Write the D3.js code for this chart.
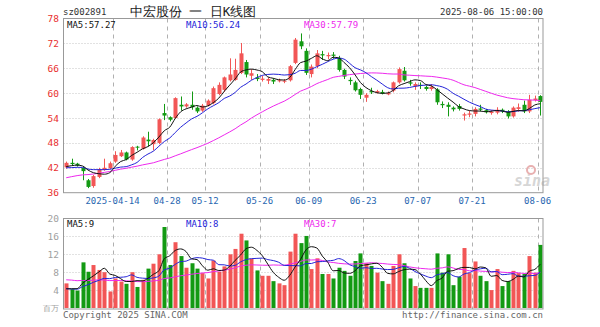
<!DOCTYPE html>
<html>
<head>
<meta charset="utf-8">
<script src="https://cdn.jsdelivr.net/npm/d3@7"></script>
<style>
  body { margin: 0; background: #fff; }
  svg text { font-family: "DejaVu Sans Mono", monospace; }
</style>
</head>
<body>
<div id="chart"></div>
<script>
// trading days shown on the chart
const dates = [
  "2025-03-31",
  "2025-04-01","2025-04-02","2025-04-03","2025-04-07","2025-04-08","2025-04-09","2025-04-10","2025-04-11",
  "2025-04-14","2025-04-15","2025-04-16","2025-04-17","2025-04-18","2025-04-21","2025-04-22","2025-04-23",
  "2025-04-24","2025-04-25","2025-04-28","2025-04-29","2025-04-30",
  "2025-05-06","2025-05-07","2025-05-08","2025-05-09","2025-05-12","2025-05-13","2025-05-14","2025-05-15",
  "2025-05-16","2025-05-19","2025-05-20","2025-05-21","2025-05-22","2025-05-23","2025-05-26","2025-05-27",
  "2025-05-28","2025-05-29","2025-05-30",
  "2025-06-03","2025-06-04","2025-06-05","2025-06-06","2025-06-09","2025-06-10","2025-06-11","2025-06-12",
  "2025-06-13","2025-06-16","2025-06-17","2025-06-18","2025-06-19","2025-06-20","2025-06-23","2025-06-24",
  "2025-06-25","2025-06-26","2025-06-27","2025-06-30",
  "2025-07-01","2025-07-02","2025-07-03","2025-07-04","2025-07-07","2025-07-08","2025-07-09","2025-07-10",
  "2025-07-11","2025-07-14","2025-07-15","2025-07-16","2025-07-17","2025-07-18","2025-07-21","2025-07-22",
  "2025-07-23","2025-07-24","2025-07-25","2025-07-28","2025-07-29","2025-07-30","2025-07-31",
  "2025-08-01","2025-08-04","2025-08-05","2025-08-06"
];

const opens = [42.1,43.2,43.0,42.0,39.0,37.6,39.8,41.5,41.9,43.5,44.8,45.7,44.0,47.1,46.6,48.8,47.7,48.0,55.2,54.2,
  54.0,57.2,56.8,57.2,56.5,55.8,57.0,57.6,59.8,60.8,63.1,63.2,64.9,67.5,64.2,63.8,63.2,63.0,63.2,62.9,
  62.8,63.1,67.3,72.5,70.2,64.6,66.5,69.4,68.9,69.3,68.5,65.6,63.2,62.6,61.0,58.9,60.5,60.1,60.3,59.7,
  60.6,62.6,65.4,62.6,61.6,62.0,61.5,61.0,60.9,57.4,57.2,56.5,56.9,54.6,54.8,55.0,56.3,55.9,55.2,55.3,
  56.0,55.6,54.4,56.2,57.2,55.6,58.3,59.3];
const highs = [43.5,44.2,43.2,42.3,39.3,40.3,42.0,44.2,43.5,46.0,46.3,45.9,47.2,47.3,49.6,50.7,49.0,53.9,57.4,54.4,
  59.0,59.2,57.6,60.4,56.8,57.4,58.5,61.6,62.6,64.0,68.4,68.3,72.1,68.0,65.8,64.6,64.2,63.8,63.6,63.5,
  63.4,66.8,73.3,74.4,70.8,66.9,70.4,70.2,69.8,69.9,69.0,65.9,63.8,63.0,61.3,60.0,61.3,60.8,60.8,60.4,
  62.8,66.2,66.3,63.2,62.6,62.6,61.8,62.2,61.2,58.0,57.8,56.8,57.4,55.3,55.8,56.6,57.2,56.2,55.9,56.6,
  56.3,55.9,56.8,57.5,58.2,59.6,59.4,59.5];
const lows = [41.8,42.5,42.3,39.0,37.1,37.2,39.5,41.3,41.7,43.2,44.6,43.8,43.7,46.2,46.4,47.2,46.2,47.7,53.5,53.2,
  53.8,55.8,56.5,56.0,55.2,55.5,56.8,57.3,59.5,60.3,62.8,63.0,64.6,63.8,63.2,62.9,62.8,62.2,62.2,62.6,
  62.4,62.8,67.0,70.6,64.4,63.8,66.0,68.0,68.2,68.3,65.2,63.4,62.0,60.4,58.6,57.9,59.8,59.9,59.7,59.5,
  60.2,62.3,62.8,61.8,60.8,61.0,60.6,60.6,57.2,56.4,54.4,55.6,55.8,53.4,54.2,54.4,55.6,55.1,54.8,54.9,
  55.2,53.9,54.1,55.5,55.2,55.2,58.0,54.6];
const closes = [43.2,42.9,42.6,41.2,37.4,40.0,41.7,42.0,43.1,45.1,45.7,44.0,47.0,46.9,49.3,48.4,48.7,53.7,54.6,53.6,
  58.8,56.8,57.3,56.6,55.6,57.0,58.2,61.2,62.0,63.8,64.5,65.6,69.6,64.5,64.8,63.4,63.5,63.4,62.8,63.1,
  63.0,66.5,72.9,71.3,64.9,66.4,69.6,69.1,69.2,69.0,65.6,64.0,62.9,60.7,59.6,59.6,60.2,60.5,59.9,60.1,
  62.6,65.8,63.1,62.3,62.2,61.8,61.0,61.5,57.8,57.1,56.7,56.1,56.2,54.9,55.1,56.2,56.0,55.4,55.5,56.0,
  55.6,54.4,56.5,56.6,55.6,58.4,58.7,57.9];
// volume, in units of the lower axis
const volumes = [5.5,4.2,3.9,10.2,8.1,9.6,8.5,8.0,3.7,6.6,5.9,5.4,8.0,4.7,6.3,8.8,9.9,12.0,18.1,9.6,
  14.7,11.6,9.0,10.0,8.8,7.8,6.6,10.6,8.1,9.3,12.0,13.2,16.6,15.1,11.0,8.4,7.2,7.2,6.0,5.5,
  5.1,12.6,16.6,14.5,16.1,8.7,11.1,7.6,7.6,6.6,9.0,8.3,7.2,10.5,12.2,10.0,9.4,7.9,6.0,5.4,
  9.4,12.0,10.0,6.6,4.9,4.5,4.5,4.5,12.2,7.9,12.0,5.1,7.0,13.4,7.8,10.4,7.2,6.0,4.0,8.7,
  4.9,6.0,8.3,7.8,7.6,11.6,7.9,14.1];

// estimated history before the window, only used to start the moving averages
const prevCloses = [35.0,35.3,35.6,35.4,35.8,36.1,36.0,36.4,36.6,37.2,38.0,38.9,39.6,40.2,40.8,41.0,41.4,42.6,42.9,43.4,
  42.4,41.9,41.5,41.3,41.4,41.8,42.0,42.2,42.3];
const prevVolumes = [6.2,7.8,8.5,9.1,7.0,6.4,8.8,7.7,6.1,5.9,7.4,9.6,8.2,6.8,7.1,6.5,7.9,6.3,6.0,6.7,
  4.8,4.2,4.5,3.9,4.1,4.2,3.8,4.1,3.9];

const priceTicks = [36,42,48,54,60,66,72,78];
const volTicks = [4,8,12,16,20];
const xTicks = ["2025-04-14","2025-04-28","2025-05-12","2025-05-26","2025-06-09","2025-06-23","2025-07-07","2025-07-21","2025-08-06"];
const xTickLabels = ["2025-04-14","04-28","05-12","05-26","06-09","06-23","07-07","07-21","08-06"];

const width = 600, height = 327;
const left = 63.5, right = 543;
const RED = "#f25656", GREEN = "#139a13";

const svg = d3.select("#chart").append("svg")
  .attr("width", width).attr("height", height)
  .attr("viewBox", [0, 0, width, height]);

const data = dates.map((d, i) => ({
  date: d, open: opens[i], high: highs[i], low: lows[i], close: closes[i], vol: volumes[i],
  up: closes[i] >= opens[i]
}));

function movingAvg(prev, values, n) {
  const all = prev.concat(values);
  return values.map((v, i) => d3.mean(all.slice(i + prev.length - n + 1, i + prev.length + 1)));
}

const x = d3.scaleBand().domain(dates).range([left, right]);
const bw = x.bandwidth();
const cx = d => x(d) + bw / 2;

const y = d3.scaleLinear().domain([36, 78]).range([192.7, 18.5]);
const yv = d3.scaleLinear().domain([0, 20]).range([308, 218.5]);

// ---------- price panel ----------
const upper = svg.append("g");

upper.selectAll(".hgrid").data(priceTicks.slice(1, -1)).join("line")
  .attr("x1", left).attr("x2", right)
  .attr("y1", d => Math.round(y(d)) + 0.5).attr("y2", d => Math.round(y(d)) + 0.5)
  .attr("stroke", "#c4c4c4").attr("stroke-dasharray", "1,2");

upper.selectAll(".vgrid").data(xTicks).join("line")
  .attr("x1", d => Math.round(x(d)) + 0.5).attr("x2", d => Math.round(x(d)) + 0.5)
  .attr("y1", 18.5).attr("y2", 192.7)
  .attr("stroke", "#b0b0b0").attr("stroke-dasharray", "4,4");

upper.selectAll(".ylab").data(priceTicks).join("text")
  .attr("x", 59).attr("y", d => y(d) + 3.5)
  .attr("text-anchor", "end").attr("font-size", 9.5).attr("fill", "#e8302f")
  .text(d => d);

upper.selectAll(".xlab").data(xTicks).join("text")
  .attr("x", d => x(d)).attr("y", 204)
  .attr("text-anchor", "middle").attr("font-size", 9).attr("fill", "#2866b0")
  .text((d, i) => xTickLabels[i]);

// sina watermark
upper.append("text").attr("x", 514).attr("y", 186)
  .attr("font-family", "DejaVu Sans").attr("font-style", "italic").attr("font-weight", "bold")
  .attr("font-size", 15).attr("fill", "#d6d6d6").text("sina");
upper.append("circle").attr("cx", 531).attr("cy", 170).attr("r", 4)
  .attr("fill", "none").attr("stroke", "#e8b0b0").attr("stroke-width", 2);

// candles
const candles = upper.selectAll(".candle").data(data).join("g");
candles.append("line")
  .attr("x1", d => Math.round(cx(d.date)) + 0.5).attr("x2", d => Math.round(cx(d.date)) + 0.5)
  .attr("y1", d => y(d.high)).attr("y2", d => y(d.low))
  .attr("stroke", d => d.up ? RED : GREEN);
candles.append("rect")
  .attr("x", d => Math.round(cx(d.date)) - 1.5)
  .attr("width", 4)
  .attr("y", d => y(Math.max(d.open, d.close)))
  .attr("height", d => Math.max(1, Math.abs(y(d.open) - y(d.close))))
  .attr("fill", d => d.up ? RED : GREEN);

const ma5 = movingAvg(prevCloses, closes, 5);
const ma10 = movingAvg(prevCloses, closes, 10);
const ma30 = movingAvg(prevCloses, closes, 30);

const priceLine = d3.line().x((d, i) => cx(dates[i])).y(d => y(d)).curve(d3.curveMonotoneX);
[[ma30, "#ee28ee"], [ma10, "#2424d8"], [ma5, "#111"]].forEach(([s, c]) => {
  upper.append("path").attr("d", priceLine(s)).attr("fill", "none").attr("stroke", c).attr("stroke-width", 1);
});

upper.append("rect").attr("x", left).attr("y", 18.5).attr("width", right - left).attr("height", 192.7 - 18.5)
  .attr("fill", "none").attr("stroke", "#999");

upper.append("text").attr("x", 67).attr("y", 28).attr("font-size", 9).attr("fill", "#111").text("MA5:57.27");
upper.append("text").attr("x", 186).attr("y", 28).attr("font-size", 9).attr("fill", "#2424d8").text("MA10:56.24");
upper.append("text").attr("x", 304).attr("y", 28).attr("font-size", 9).attr("fill", "#ee28ee").text("MA30:57.79");

// header
svg.append("text").attr("x", 63).attr("y", 15).attr("font-size", 9).attr("fill", "#333").text("sz002891");
svg.append("text").attr("x", 193).attr("y", 15.5).attr("text-anchor", "middle")
  .attr("font-family", "Noto Sans CJK SC").attr("font-size", 12.5).attr("fill", "#222")
  .text("中宏股份 一 日K线图");
svg.append("text").attr("x", 543).attr("y", 15).attr("text-anchor", "end").attr("font-size", 9).attr("fill", "#333")
  .text("2025-08-06 15:00:00");

// ---------- volume panel ----------
const lower = svg.append("g");

lower.selectAll(".hgrid").data(volTicks.slice(0, -1)).join("line")
  .attr("x1", left).attr("x2", right)
  .attr("y1", d => Math.round(yv(d)) + 0.5).attr("y2", d => Math.round(yv(d)) + 0.5)
  .attr("stroke", "#c4c4c4").attr("stroke-dasharray", "1,2");

lower.selectAll(".vgrid").data(xTicks).join("line")
  .attr("x1", d => Math.round(x(d)) + 0.5).attr("x2", d => Math.round(x(d)) + 0.5)
  .attr("y1", 218.5).attr("y2", 309)
  .attr("stroke", "#b0b0b0").attr("stroke-dasharray", "4,4");

lower.selectAll(".ylab").data(volTicks).join("text")
  .attr("x", 59).attr("y", d => yv(d) + 3.5)
  .attr("text-anchor", "end").attr("font-size", 9.5).attr("fill", "#a0a0a0")
  .text(d => d);
lower.append("text").attr("x", 59).attr("y", 311).attr("text-anchor", "end")
  .attr("font-family", "Noto Sans CJK SC").attr("font-size", 8).attr("fill", "#a0a0a0").text("百万");

lower.selectAll(".bar").data(data).join("rect")
  .attr("x", d => Math.round(cx(d.date)) - 1.5)
  .attr("width", 4)
  .attr("y", d => yv(d.vol))
  .attr("height", d => yv(0) - yv(d.vol))
  .attr("fill", d => d.up ? RED : GREEN);

const vma5 = movingAvg(prevVolumes, volumes, 5);
const vma10 = movingAvg(prevVolumes, volumes, 10);
const vma30 = movingAvg(prevVolumes, volumes, 30);
const volLine = d3.line().x((d, i) => cx(dates[i])).y(d => yv(d)).curve(d3.curveMonotoneX);
[[vma30, "#ee28ee"], [vma10, "#2424d8"], [vma5, "#111"]].forEach(([s, c]) => {
  lower.append("path").attr("d", volLine(s)).attr("fill", "none").attr("stroke", c).attr("stroke-width", 1);
});

lower.append("rect").attr("x", left).attr("y", 218.5).attr("width", right - left).attr("height", 309 - 218.5)
  .attr("fill", "none").attr("stroke", "#999");

lower.append("text").attr("x", 67).attr("y", 227).attr("font-size", 9).attr("fill", "#111").text("MA5:9");
lower.append("text").attr("x", 186).attr("y", 227).attr("font-size", 9).attr("fill", "#2424d8").text("MA10:8");
lower.append("text").attr("x", 304).attr("y", 227).attr("font-size", 9).attr("fill", "#ee28ee").text("MA30:7");

svg.append("text").attr("x", 63).attr("y", 318).attr("font-size", 9).attr("fill", "#666").text("Copyright 2025 SINA.COM");
svg.append("text").attr("x", 543).attr("y", 318).attr("text-anchor", "end").attr("font-size", 9).attr("fill", "#666")
  .text("http://finance.sina.com.cn");
</script>
</body>
</html>
